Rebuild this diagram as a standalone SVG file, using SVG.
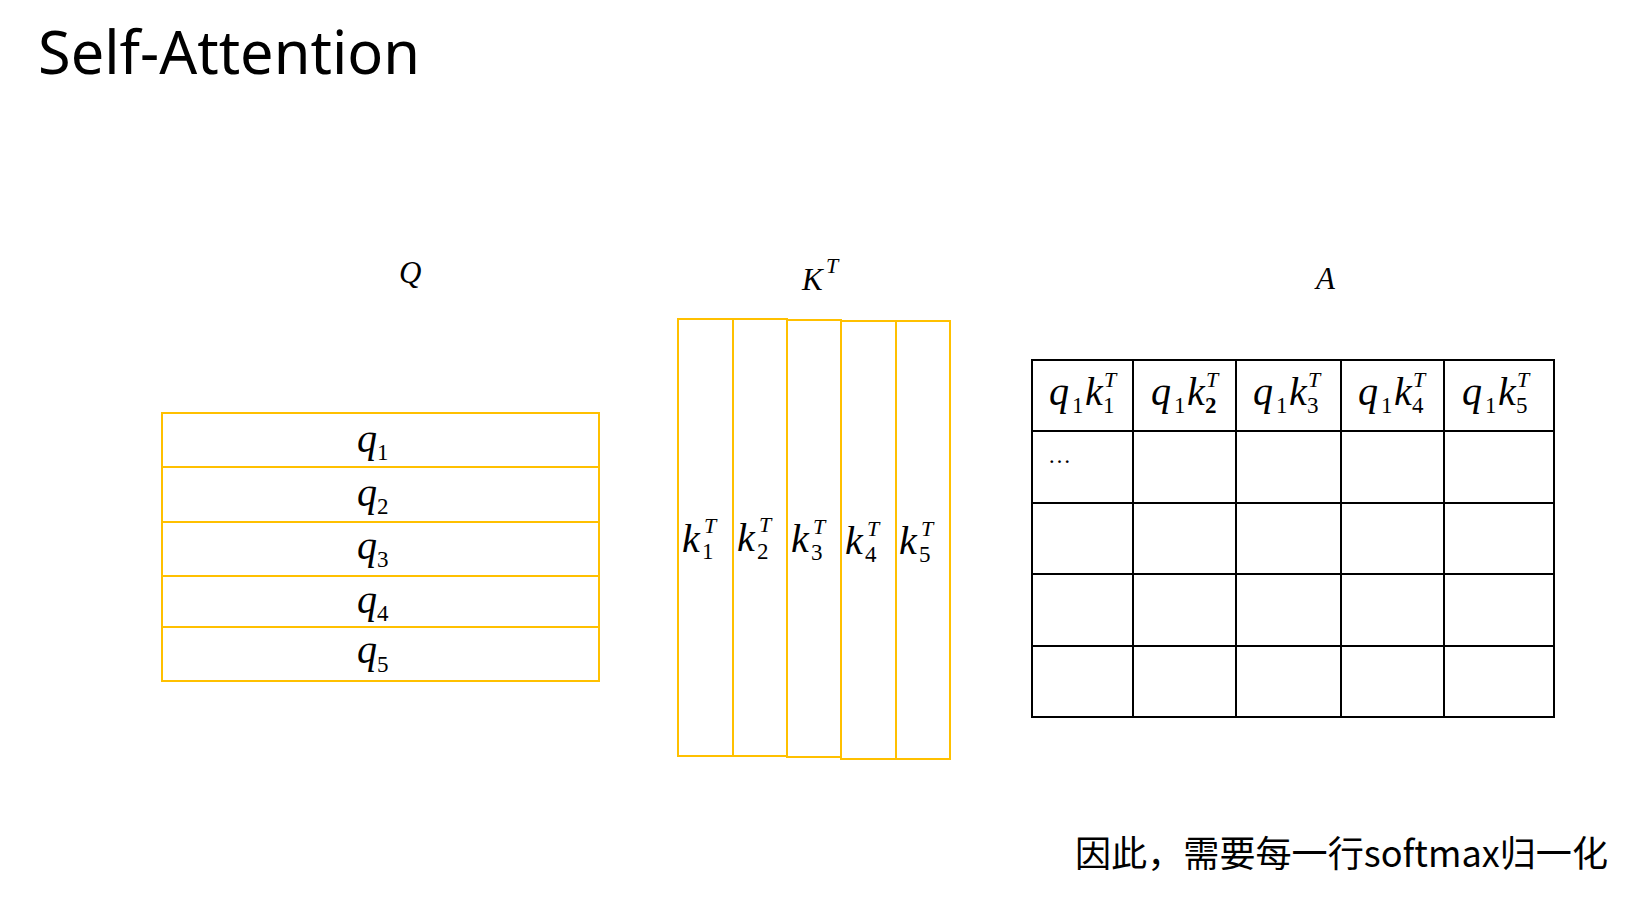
<svg xmlns="http://www.w3.org/2000/svg" width="1649" height="898" viewBox="0 0 1649 898">
<style>
.m{font-family:"Liberation Serif","DejaVu Serif",serif;font-style:italic;font-size:40px;fill:#000}
.s{font-family:"Liberation Serif","DejaVu Serif",serif;font-style:normal;font-size:23px;fill:#000}
.si{font-family:"Liberation Serif","DejaVu Serif",serif;font-style:italic;font-size:22px;fill:#000}
.h{font-family:"Liberation Serif","DejaVu Serif",serif;font-style:italic;font-size:31px;fill:#000}
.y{fill:#fff;stroke:#FFC000;stroke-width:2}
.g{fill:none;stroke:#000;stroke-width:2}
</style>
<rect width="1649" height="898" fill="#fff"/>
<g id="title"><text x="38" y="74" font-family="Noto Sans, Open Sans, sans-serif" font-size="60" textLength="382" lengthAdjust="spacingAndGlyphs">Self-Attention</text></g>

<g id="label-Q"><text class="h" x="399" y="283" font-size="30">Q</text></g>
<g id="label-KT"><text class="h" x="802" y="290" font-size="29">K</text><text class="si" x="826" y="273" font-size="20">T</text></g>
<g id="label-A"><text class="h" x="1316" y="289">A</text></g>

<g id="Q-matrix">
<g id="q1"><rect class="y" x="162" y="413" width="437" height="54"/><text class="m" x="357" y="452">q</text><text class="s" x="377" y="460">1</text></g>
<g id="q2"><rect class="y" x="162" y="467" width="437" height="55"/><text class="m" x="357" y="506">q</text><text class="s" x="377" y="514">2</text></g>
<g id="q3"><rect class="y" x="162" y="522" width="437" height="54"/><text class="m" x="357" y="559">q</text><text class="s" x="377" y="567">3</text></g>
<g id="q4"><rect class="y" x="162" y="576" width="437" height="51"/><text class="m" x="357" y="613">q</text><text class="s" x="377" y="621">4</text></g>
<g id="q5"><rect class="y" x="162" y="627" width="437" height="54"/><text class="m" x="357" y="663">q</text><text class="s" x="377" y="672">5</text></g>
</g>

<g id="K-matrix">
<g id="k1"><rect class="y" x="678" y="319" width="55" height="437"/><text class="m" x="682" y="552">k</text><text class="si" x="704" y="533">T</text><text class="s" x="702" y="559">1</text></g>
<g id="k2"><rect class="y" x="733" y="319" width="54" height="437"/><text class="m" x="737" y="551">k</text><text class="si" x="759" y="532">T</text><text class="s" x="757" y="559">2</text></g>
<g id="k3"><rect class="y" x="787" y="320" width="54" height="437"/><text class="m" x="791" y="552">k</text><text class="si" x="813" y="534">T</text><text class="s" x="811" y="560">3</text></g>
<g id="k4"><rect class="y" x="841" y="321" width="55" height="438"/><text class="m" x="845" y="554">k</text><text class="si" x="867" y="536">T</text><text class="s" x="865" y="562">4</text></g>
<g id="k5"><rect class="y" x="896" y="321" width="54" height="438"/><text class="m" x="899" y="554">k</text><text class="si" x="921" y="536">T</text><text class="s" x="919" y="562">5</text></g>
</g>

<g id="A-matrix">
<rect class="g" x="1032" y="360" width="522" height="357"/>
<path class="g" d="M1133 360V717M1236 360V717M1341 360V717M1444 360V717M1032 431H1554M1032 503H1554M1032 574H1554M1032 646H1554"/>
<g id="a11"><text class="m" x="1049" y="405">q</text><text class="s" x="1072" y="413">1</text><text class="m" x="1085" y="405">k</text><text class="si" x="1104" y="387">T</text><text class="s" x="1103" y="413">1</text></g>
<g id="a12"><text class="m" x="1151" y="405">q</text><text class="s" x="1174" y="413">1</text><text class="m" x="1187" y="405">k</text><text class="si" x="1206" y="387">T</text><text class="s" x="1205" y="413" font-weight="bold">2</text></g>
<g id="a13"><text class="m" x="1253" y="405">q</text><text class="s" x="1276" y="413">1</text><text class="m" x="1289" y="405">k</text><text class="si" x="1308" y="387">T</text><text class="s" x="1307" y="413">3</text></g>
<g id="a14"><text class="m" x="1358" y="405">q</text><text class="s" x="1381" y="413">1</text><text class="m" x="1394" y="405">k</text><text class="si" x="1413" y="387">T</text><text class="s" x="1412" y="413">4</text></g>
<g id="a15"><text class="m" x="1462" y="405">q</text><text class="s" x="1485" y="413">1</text><text class="m" x="1498" y="405">k</text><text class="si" x="1517" y="387">T</text><text class="s" x="1516" y="413">5</text></g>
<g id="a21"><text class="s" x="1048" y="463" font-size="24">…</text></g>
</g>

<g id="connectors"></g>

<g id="note"><text x="1075" y="867" font-family="Noto Sans CJK SC, Noto Sans, sans-serif" font-size="36" textLength="533" lengthAdjust="spacingAndGlyphs">因此，需要每一行softmax归一化</text></g>
</svg>
